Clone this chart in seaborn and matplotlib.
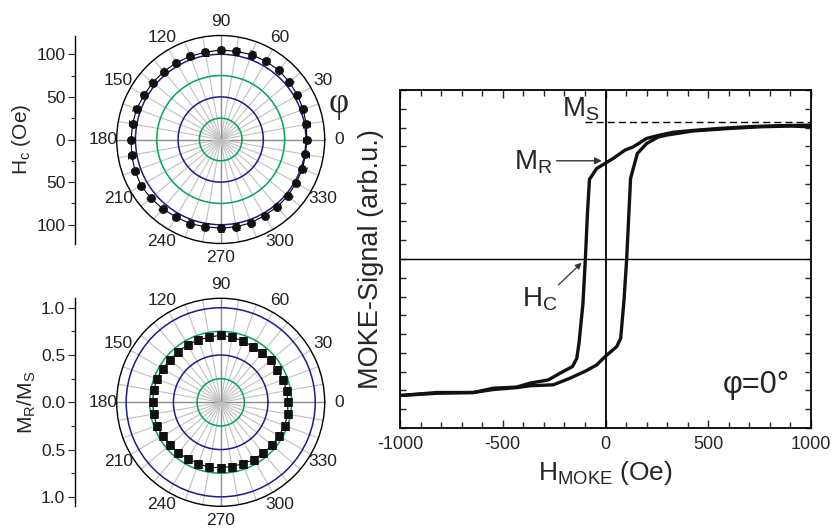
import numpy as np
import pandas as pd
import matplotlib
matplotlib.use("Agg")
import matplotlib.pyplot as plt
from matplotlib.ticker import MultipleLocator
import seaborn as sns

sns.set_theme(style="white")
plt.rcParams['font.family'] = ['Liberation Sans', 'DejaVu Sans']
plt.rcParams['mathtext.fontset'] = 'custom'
plt.rcParams['mathtext.rm'] = 'Liberation Sans'
plt.rcParams['mathtext.it'] = 'Liberation Sans'

# ---------------- data ----------------
phi_deg = list(range(0, 360, 10))
phi_labels = [0, 30, 60, 90, 120, 150, 180, 210, 240, 270, 300, 330]
hc_oe = [101, 102, 103, 104, 105, 106, 106, 106, 105, 105, 104, 104,
         104, 104, 104, 104, 105, 105, 105, 106, 107, 108, 107, 106,
         105, 105, 104, 104, 104, 104, 103, 103, 103, 102, 102, 101]
hc_err = [4] * 36
mr_ms = [0.71, 0.71, 0.70, 0.69, 0.69, 0.68, 0.68, 0.69, 0.70, 0.71, 0.70, 0.70,
         0.70, 0.70, 0.70, 0.71, 0.72, 0.72, 0.72, 0.72, 0.72, 0.71, 0.70, 0.70,
         0.69, 0.69, 0.70, 0.69, 0.69, 0.69, 0.70, 0.70, 0.71, 0.71, 0.72, 0.72]
mr_err = [0.02] * 36

h_down = [1000, 850, 700, 550, 430, 330, 265, 200, 135, 95, 38, -2, -43, -78,
          -88, -98, -110, -129, -140, -161, -221, -278, -367, -432, -546, -643, -821, -1000]
m_down = [7.13, 7.10, 7.05, 6.95, 6.85, 6.75, 6.60, 6.42, 5.97, 5.80, 5.36, 5.09, 4.82, 4.24,
          2.40, 0.00, -2.40, -4.49, -5.30, -5.73, -6.08, -6.44, -6.61, -6.82, -6.88, -7.11, -7.11, -7.27]
h_up = [-1000, -821, -643, -546, -432, -367, -254, -173, -92, -43, -2, 55, 74,
        90, 103, 122, 155, 200, 257, 298, 427, 600, 752, 900, 1000]
m_up = [-7.27, -7.15, -7.11, -6.95, -6.85, -6.75, -6.70, -6.35, -5.94, -5.64, -5.20, -4.66, -4.22,
        -2.20, 0.00, 4.29, 5.62, 6.15, 6.50, 6.60, 6.82, 6.95, 7.04, 7.08, 7.04]
m_sat = 7.27

xticks_main = [-1000, -500, 0, 500, 1000]

W, H = 832, 529
fig = plt.figure(figsize=(W / 100, H / 100), dpi=100)

def fx(px):
    return px / W

def fy(py):
    return 1 - py / H

GREEN = '#00a651'
BLUE = '#1c1c8c'

def make_polar(cy, rmax, rings, values, errs, marker, ylab, ticklabels, ticks, minor):
    cx, R = 220.7, 104
    ax = fig.add_axes([fx(cx - R), fy(cy + R), 2 * R / W, 2 * R / H], projection='polar')
    th = np.deg2rad(phi_deg)
    df = pd.DataFrame({'theta': np.append(th, th[0]), 'r': values + values[:1]})
    sns.lineplot(data=df, x='theta', y='r', ax=ax, sort=False, estimator=None,
                 color='black', lw=0.8)
    ax.errorbar(th, values, yerr=errs, fmt='none', ecolor='black', elinewidth=0.7,
                capsize=2, capthick=0.7)
    sns.scatterplot(x=th, y=values, ax=ax, marker=marker, s=34, color='#111111',
                    edgecolor='#111111', linewidth=0.5, zorder=5)
    ax.set_ylim(0, rmax)
    ax.set_xlabel('')
    ax.set_ylabel('')
    ax.set_xticks(np.deg2rad(phi_deg))
    ax.set_xticklabels([])
    for a in phi_labels:
        ax.text(np.deg2rad(a), rmax * 118.0 / 104.0, str(a), ha='center', va='center',
                fontsize=12.5, color='#222222', clip_on=False)
    ax.set_yticks(rings)
    ax.set_yticklabels([])
    ax.grid(True)
    for i, gl in enumerate(ax.xaxis.get_gridlines()):
        if phi_deg[i] % 90 == 0:
            gl.set_color('#8a8a8a'); gl.set_linewidth(1.0)
        else:
            gl.set_color('#c0c0c0'); gl.set_linewidth(0.8)
    for i, gl in enumerate(ax.yaxis.get_gridlines()):
        gl.set_color(GREEN if i % 2 == 0 else BLUE)
        gl.set_linewidth(1.1)
        gl.set_linestyle('-')
    ax.spines['polar'].set_color('black')
    ax.spines['polar'].set_linewidth(1.0)
    ax.set_facecolor('white')

    # linear radius scale at left
    la = fig.add_axes([fx(75), fy(cy + R), 0.0005, 2 * R / H])
    la.set_ylim(-rmax, rmax)
    for s in ['top', 'right', 'bottom']:
        la.spines[s].set_visible(False)
    la.spines['left'].set_color('black')
    la.spines['left'].set_linewidth(1.0)
    la.set_xticks([])
    la.set_yticks(ticks)
    la.set_yticklabels(ticklabels, fontsize=12.5, color='#222222')
    la.yaxis.set_minor_locator(MultipleLocator(minor))
    la.tick_params(axis='y', which='major', direction='out', length=5, width=0.8, pad=2, left=True)
    la.tick_params(axis='y', which='minor', direction='out', length=3, width=0.8, left=True)
    la.set_ylabel(ylab, fontsize=15, labelpad=2)
    la.patch.set_alpha(0)
    return ax

make_polar(139.5, 122, [25, 50, 75, 100], hc_oe, hc_err, 'o', r'H$_{\rm c}$ (Oe)',
           ['100', '50', '0', '50', '100'], [-100, -50, 0, 50, 100], 25)
make_polar(402.3, 1.1, [0.25, 0.5, 0.75, 1.0], mr_ms, mr_err, 's',
           r'M$_{\rm R}$/M$_{\rm S}$',
           ['1.0', '0.5', '0.0', '0.5', '1.0'], [-1.0, -0.5, 0.0, 0.5, 1.0], 0.25)

fig.text(fx(338.7), fy(104), 'φ', ha='center', va='center', fontsize=25,
         family=['Liberation Serif', 'DejaVu Serif'])

# ---------------- hysteresis loop ----------------
ax = fig.add_axes([fx(400), fy(428), 411 / W, 338 / H])
loop = pd.DataFrame({'H': h_down + h_up, 'M': m_down + m_up,
                     'branch': ['down'] * len(h_down) + ['up'] * len(h_up)})
sns.lineplot(data=loop, x='H', y='M', units='branch', estimator=None, sort=False,
             ax=ax, color='#111111', lw=2.4)
ax.set_xlim(-1000, 1000)
ax.set_ylim(-9, 9)
ax.axhline(0, color='black', lw=1.0, zorder=1)
ax.axvline(0, color='black', lw=1.3, zorder=1)
ax.plot([-100, 1000], [m_sat, m_sat], color='black', lw=1.0, ls=(0, (5, 3)))
ax.set_xticks(xticks_main)
ax.set_xticklabels([str(v) for v in xticks_main], fontsize=13)
ax.xaxis.set_minor_locator(MultipleLocator(100))
ax.yaxis.set_major_locator(MultipleLocator(1))
ax.set_yticklabels([])
ax.tick_params(axis='both', which='both', direction='in', top=True, right=True,
               bottom=True, left=True, width=1.0)
ax.tick_params(axis='x', which='major', length=6, pad=6)
ax.tick_params(axis='x', which='minor', length=4)
ax.tick_params(axis='y', which='major', length=4)
for s in ax.spines.values():
    s.set_color('black')
    s.set_linewidth(1.3)
ax.set_xlabel(r'H$_{\rm MOKE}$ (Oe)', fontsize=19, labelpad=4)
ax.set_ylabel('MOKE-Signal (arb.u.)', fontsize=19.5, labelpad=8)

ax.text(-27, 7.6, r'M$_{\rm S}$', ha='right', va='baseline', fontsize=20)
ax.text(-257, 4.77, r'M$_{\rm R}$', ha='right', va='baseline', fontsize=20)
ax.annotate('', xy=(-18, 5.23), xytext=(-238, 5.23),
            arrowprops=dict(arrowstyle='-|>', color='#333333', lw=1.0,
                            mutation_scale=10, shrinkA=0, shrinkB=0))
ax.text(-235, -2.54, r'H$_{\rm C}$', ha='right', va='baseline', fontsize=20)
ax.annotate('', xy=(-116, -0.2), xytext=(-229, -1.38),
            arrowprops=dict(arrowstyle='-|>', color='#333333', lw=0.9,
                            mutation_scale=9, shrinkA=0, shrinkB=0))
ax.text(898, -7.15, 'φ=0°', ha='right', va='baseline', fontsize=22)

fig.savefig('out.png', dpi=100, facecolor='white')
